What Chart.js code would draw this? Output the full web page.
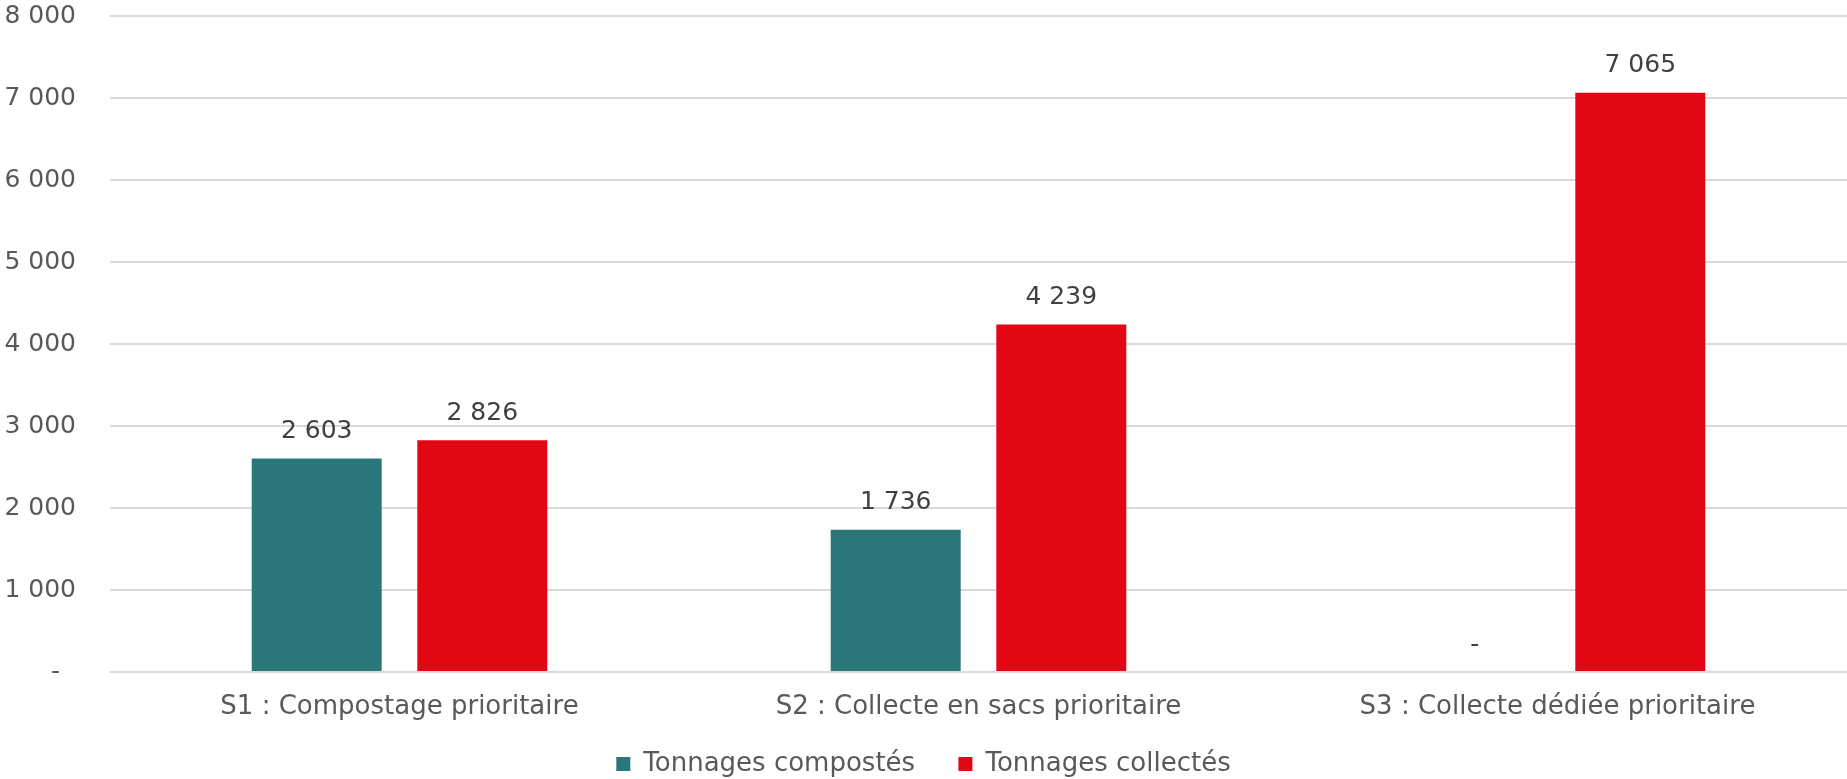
<!DOCTYPE html>
<html lang="fr">
<head>
<meta charset="utf-8">
<title>Tonnages compostés et collectés</title>
<script src="https://cdn.jsdelivr.net/npm/chart.js@4.4.1/dist/chart.umd.min.js"></script>
<style>
    html, body { margin: 0; padding: 0; background: #ffffff; }
    #wrap { width: 1847px; height: 779px; position: relative; }
</style>
</head>
<body>
<div id="wrap"><canvas id="chartCanvas"></canvas></div>
<script>
// données du graphique
const categories = ['S1 : Compostage prioritaire', 'S2 : Collecte en sacs prioritaire', 'S3 : Collecte dédiée prioritaire'];
const seriesLabels = ['Tonnages compostés', 'Tonnages collectés'];
const tonnagesComposts = [2603, 1736, 0];
const tonnagesCollectes = [2826, 4239, 7065];
const yTicks = [0, 1000, 2000, 3000, 4000, 5000, 6000, 7000, 8000];

const FONT = 'Verdana, "DejaVu Sans", sans-serif';
const TEAL = '#2A7779';
const RED = '#E30613';

// format "8 000", zéro affiché comme "-"
function formatNombre(v) {
    if (v === 0) return '-';
    return String(Math.round(v)).replace(/\B(?=(\d{3})+(?!\d))/g, ' ');
}

// étiquettes de valeurs au-dessus des barres
const valueLabels = {
    id: 'valueLabels',
    afterDatasetsDraw(chart) {
        const ctx = chart.ctx;
        ctx.save();
        ctx.font = '25px ' + FONT;
        ctx.fillStyle = '#404040';
        ctx.textAlign = 'center';
        ctx.textBaseline = 'middle';
        chart.data.datasets.forEach((ds, i) => {
            const meta = chart.getDatasetMeta(i);
            meta.data.forEach((bar, j) => {
                ctx.fillText(formatNombre(ds.data[j]), bar.x, bar.y - 27);
            });
        });
        ctx.restore();
    }
};

function initChart() {
    const canvas = document.getElementById('chartCanvas');
    new Chart(canvas, {
        type: 'bar',
        data: {
            labels: categories,
            datasets: [
                {
                    label: seriesLabels[0],
                    data: tonnagesComposts,
                    backgroundColor: TEAL,
                    categoryPercentage: 0.572,
                    barPercentage: 0.785
                },
                {
                    label: seriesLabels[1],
                    data: tonnagesCollectes,
                    backgroundColor: RED,
                    categoryPercentage: 0.572,
                    barPercentage: 0.785
                }
            ]
        },
        options: {
            responsive: true,
            maintainAspectRatio: false,
            animation: false,
            layout: { padding: { top: 16, right: 0, left: 0, bottom: -8 } },
            scales: {
                x: {
                    grid: { display: false, drawTicks: false },
                    border: { display: false },
                    ticks: {
                        color: '#595959',
                        font: { family: FONT, size: 26 },
                        padding: 20,
                        maxRotation: 0
                    },
                    afterFit(axis) {
                        axis.height = 77;
                        axis.paddingLeft = 0;
                        axis.paddingRight = 0;
                    }
                },
                y: {
                    min: 0,
                    max: 8000,
                    afterBuildTicks(axis) {
                        axis.ticks = yTicks.map(v => ({ value: v }));
                    },
                    grid: { color: '#D9D9D9', lineWidth: 2, drawTicks: false },
                    border: { display: false },
                    ticks: {
                        color: '#595959',
                        font: { family: FONT, size: 25 },
                        padding: 34,
                        callback: v => (v === 0 ? '-  ' : formatNombre(v))
                    },
                    afterFit(axis) {
                        axis.width = 110;
                        axis.paddingTop = 0;
                        axis.paddingBottom = 0;
                    }
                }
            },
            plugins: {
                legend: {
                    position: 'bottom',
                    labels: {
                        color: '#595959',
                        font: { family: FONT, size: 26 },
                        boxWidth: 14,
                        boxHeight: 14,
                        padding: 2,
                        generateLabels(chart) {
                            const items = Chart.defaults.plugins.legend.labels.generateLabels(chart);
                            items.forEach((it, i) => {
                                if (i < items.length - 1) it.text = it.text + '     ';
                            });
                            return items;
                        }
                    }
                },
                tooltip: { enabled: false }
            }
        },
        plugins: [valueLabels]
    });
}

document.addEventListener('DOMContentLoaded', initChart);
</script>
</body>
</html>
